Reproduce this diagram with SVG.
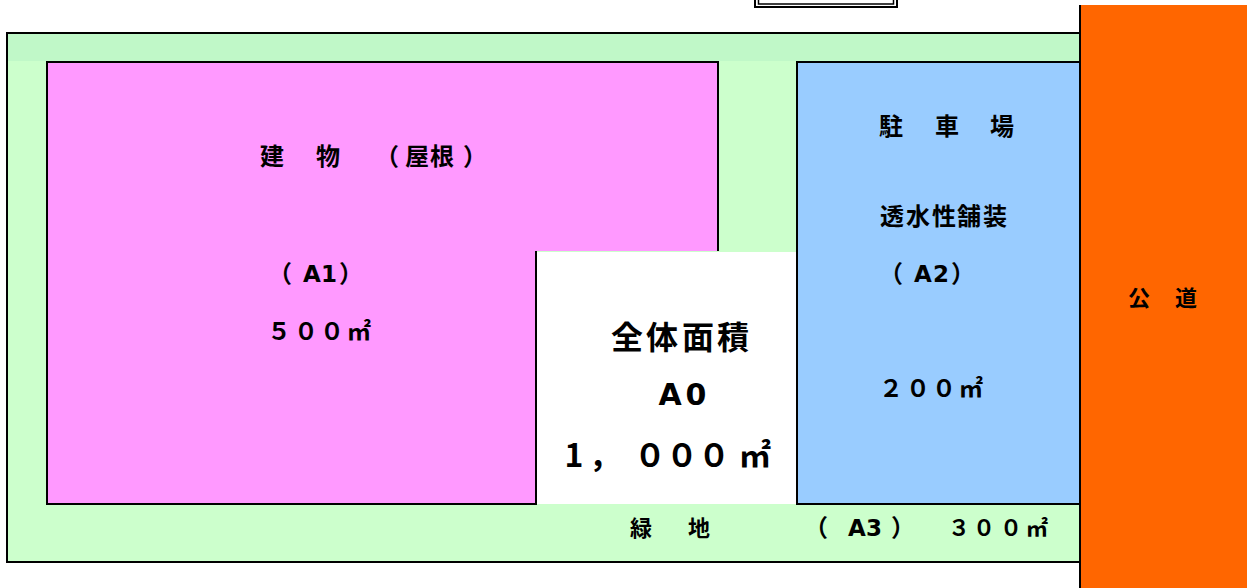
<svg xmlns="http://www.w3.org/2000/svg" width="1247" height="588" viewBox="0 0 1247 588">
<style>
.t{font-family:"Noto Sans CJK JP","Noto Sans",sans-serif;font-weight:bold;fill:#000;text-anchor:middle}
.l{font-family:"DejaVu Sans","Noto Sans CJK JP",sans-serif;font-weight:bold;font-size:23px}
.s24{font-size:24px}
.s22{font-size:22px}
.big{font-size:32px}
.ln{fill:none;stroke:#000;stroke-width:2}
</style>
<rect width="1247" height="588" fill="#fff"/>
<g id="top-box">
<rect x="755" y="-20" width="142" height="27" fill="#fff" stroke="#000" stroke-width="2"/>
<rect x="758.5" y="-20" width="135" height="24" fill="none" stroke="#000" stroke-width="1.5"/>
</g>
<g id="green-area">
<rect x="7" y="33" width="1073" height="529" fill="#CCFFCC"/>
<rect x="8" y="34" width="1072" height="27" fill="#C0F8C8"/>
<rect x="7" y="33" width="1073" height="529" class="ln"/>
<text class="t s22" x="641 699" y="536">緑地</text>
<text class="t s24" x="816 857 874 903" y="536">（<tspan class="l">A3</tspan>）</text>
<text class="t s22" x="959 984 1011 1037" y="536">３００㎡</text>
</g>
<g id="building">
<path d="M47,62 H718 V251 H536 V504 H47 Z" fill="#FF99FF"/>
<path d="M718,251 V62 H47 V504 H536 V251" class="ln"/>
<text class="t s24" x="272 328 387 417 442 475" y="165">建物（屋根）</text>
<text class="t s24" x="280 312 329 351" y="282">（<tspan class="l">A1</tspan>）</text>
<text class="t s24" x="279 306 332 359" y="340">５００㎡</text>
</g>
<g id="total">
<rect x="537" y="252" width="259" height="252" fill="#fff"/>
<text class="t big" x="627 662 698 733" y="349">全体面積</text>
<text class="t l" style="font-size:30px" x="670 696" y="405">A0</text>
<text class="t big" x="574 605 650 682 714 755" y="467">1，０００㎡</text>
</g>
<g id="parking">
<rect x="797" y="62" width="283" height="442" fill="#99CCFF"/>
<path d="M1080,62 H797 V504 H1080" class="ln"/>
<text class="t s24" x="891 947 1002" y="135">駐車場</text>
<text class="t s24" x="892 918 944 969 995" y="225">透水性舗装</text>
<text class="t s24" x="891 923 941 963" y="282">（<tspan class="l">A2</tspan>）</text>
<text class="t s24" x="891 918 944 971" y="397">２００㎡</text>
</g>
<g id="road">
<rect x="1080" y="5" width="167" height="583" fill="#FF6600"/>
<line x1="1080" y1="5" x2="1080" y2="588" stroke="#000" stroke-width="2"/>
<text class="t s22" x="1139 1186" y="306">公道</text>
</g>
</svg>
